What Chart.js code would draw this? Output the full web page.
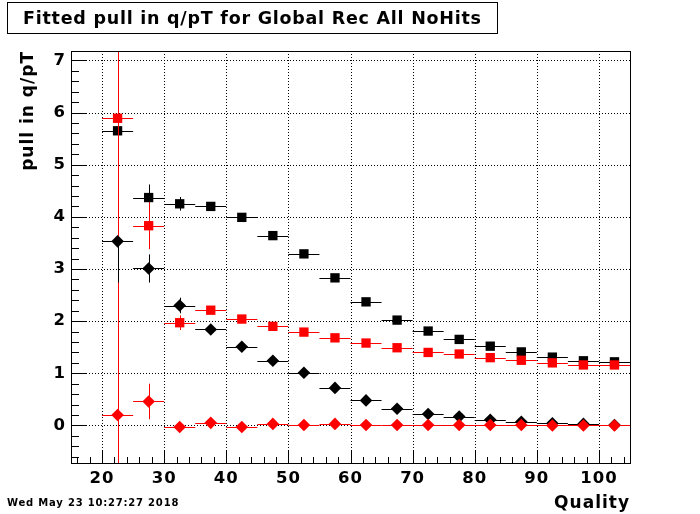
<!DOCTYPE html>
<html>
<head>
<meta charset="utf-8">
<script src="https://cdn.jsdelivr.net/npm/chart.js@4.4.1/dist/chart.umd.min.js"></script>
<style>
  body { margin: 0; background: #fff; }
  #wrap { position: relative; width: 700px; height: 514px; }
  #title {
    position: absolute; left: 7px; top: 2px; width: 489px; height: 30px;
    border: 1px solid #000;
    font: bold 17.5px "DejaVu Sans"; line-height: 30px; letter-spacing: 0.75px;
  }
  #title span { position: absolute; left: 15px; white-space: nowrap; }
  #stamp {
    position: absolute; left: 7px; top: 497px;
    font: bold 10px "DejaVu Sans"; letter-spacing: 0.8px;
  }
</style>
</head>
<body>
<div id="wrap">
  <canvas id="c" width="700" height="514"></canvas>
  <div id="title"><span>Fitted pull in q/pT for Global Rec All NoHits</span></div>
  <div id="stamp">Wed May 23 10:27:27 2018</div>
</div>
<script>
// Bin centres in Quality (bins are 5 wide)
const binCenters = [22.5, 27.5, 32.5, 37.5, 42.5, 47.5, 52.5, 57.5, 62.5, 67.5, 72.5, 77.5, 82.5, 87.5, 92.5, 97.5, 102.5];
const binHalfWidth = 2.5;

// black squares
const blackSquare    = [5.65, 4.37, 4.25, 4.20, 3.99, 3.64, 3.29, 2.83, 2.37, 2.02, 1.81, 1.65, 1.52, 1.41, 1.31, 1.24, 1.22];
const blackSquareErr = [0.10, 0.25, 0.13, 0.06, 0.03, 0.02, 0.02, 0.02, 0.02, 0.02, 0.02, 0.02, 0.02, 0.02, 0.02, 0.02, 0.02];
// red squares
const redSquare      = [5.89, 3.83, 1.97, 2.21, 2.04, 1.90, 1.79, 1.68, 1.58, 1.49, 1.40, 1.37, 1.30, 1.25, 1.20, 1.16, 1.16];
const redSquareErr   = [7.00, 0.45, 0.14, 0.05, 0.03, 0.02, 0.02, 0.02, 0.02, 0.02, 0.02, 0.02, 0.02, 0.02, 0.02, 0.02, 0.02];
// black diamonds (upper error of first bin is hidden)
const blackDiamond      = [3.53, 3.01, 2.30, 1.84, 1.51, 1.24, 1.01, 0.72, 0.48, 0.32, 0.22, 0.17, 0.11, 0.07, 0.04, 0.03, 0.01];
const blackDiamondErr   = [0.79, 0.27, 0.15, 0.05, 0.03, 0.02, 0.02, 0.02, 0.02, 0.02, 0.02, 0.02, 0.02, 0.02, 0.02, 0.02, 0.02];
const blackDiamondErrUp = [0.00, 0.27, 0.15, 0.05, 0.03, 0.02, 0.02, 0.02, 0.02, 0.02, 0.02, 0.02, 0.02, 0.02, 0.02, 0.02, 0.02];
// red diamonds
const redDiamond     = [0.20, 0.46, -0.03, 0.05, -0.03, 0.03, 0.01, 0.03, 0.01, 0.01, 0.01, 0.01, 0.01, 0.01, 0.00, 0.00, 0.00];
const redDiamondErr  = [1.55, 0.34, 0.03, 0.03, 0.03, 0.02, 0.02, 0.02, 0.02, 0.02, 0.02, 0.02, 0.02, 0.02, 0.02, 0.02, 0.02];

// tick labels
const xTickValues = [20, 30, 40, 50, 60, 70, 80, 90, 100];
const yTickValues = [0, 1, 2, 3, 4, 5, 6, 7];

// order: higher is drawn first, so the red diamonds end up on top
function makeSet(values, errLow, errHigh, color, style, radius, order) {
  return {
    data: binCenters.map((x, i) => ({ x: x, y: values[i] })),
    errLow: errLow,
    errHigh: errHigh,
    order: order,
    backgroundColor: color,
    borderColor: color,
    borderWidth: 0,
    pointStyle: style,
    pointRadius: radius,
    pointHoverRadius: radius,
    showLine: false
  };
}

// error bars drawn under each dataset's markers
const errorBars = {
  id: 'errorBars',
  beforeDatasetDraw(chart, args) {
    const ds = chart.data.datasets[args.index];
    const xs = chart.scales.x, ys = chart.scales.y;
    const area = chart.chartArea;
    const ctx = chart.ctx;
    ctx.save();
    ctx.beginPath();
    ctx.rect(area.left, area.top, area.right - area.left, area.bottom - area.top);
    ctx.clip();
    ctx.strokeStyle = ds.borderColor;
    ctx.lineWidth = 1;
    ds.data.forEach((p, i) => {
      const px = Math.round(xs.getPixelForValue(p.x)) + 0.5;
      const py = Math.round(ys.getPixelForValue(p.y)) + 0.5;
      ctx.beginPath();
      ctx.moveTo(xs.getPixelForValue(p.x - binHalfWidth), py);
      ctx.lineTo(xs.getPixelForValue(p.x + binHalfWidth), py);
      ctx.moveTo(px, ys.getPixelForValue(p.y + ds.errHigh[i]));
      ctx.lineTo(px, ys.getPixelForValue(p.y - ds.errLow[i]));
      ctx.stroke();
    });
    ctx.restore();
  }
};

// ROOT style frame, dotted grid and inside ticks
const frame = {
  id: 'frame',
  beforeDraw(chart) {
    chart.ctx.letterSpacing = '1px';
  },
  beforeDatasetsDraw(chart) {
    const xs = chart.scales.x, ys = chart.scales.y;
    const a = chart.chartArea;
    const ctx = chart.ctx;
    ctx.save();
    ctx.strokeStyle = '#000';
    ctx.lineWidth = 1;
    ctx.setLineDash([1, 2]);
    ctx.beginPath();
    xTickValues.forEach(v => {
      const px = Math.round(xs.getPixelForValue(v)) + 0.5;
      ctx.moveTo(px, a.top); ctx.lineTo(px, a.bottom);
    });
    yTickValues.forEach(v => {
      const py = Math.round(ys.getPixelForValue(v)) + 0.5;
      ctx.moveTo(a.left, py); ctx.lineTo(a.right, py);
    });
    ctx.stroke();
    ctx.setLineDash([]);
    ctx.beginPath();
    for (let v = 16; v <= 104; v += 2) {
      const px = Math.round(xs.getPixelForValue(v)) + 0.5;
      const len = v % 10 === 0 ? 12 : 6;
      ctx.moveTo(px, a.bottom); ctx.lineTo(px, a.bottom - len);
    }
    for (let k = -3; k <= 35; k++) {
      const v = k / 5;
      const py = Math.round(ys.getPixelForValue(v)) + 0.5;
      const len = k % 5 === 0 ? 16 : 8;
      ctx.moveTo(a.left, py); ctx.lineTo(a.left + len, py);
    }
    ctx.stroke();
    ctx.restore();
  },
  afterDraw(chart) {
    const a = chart.chartArea;
    const ctx = chart.ctx;
    ctx.save();
    ctx.strokeStyle = '#000';
    ctx.lineWidth = 1;
    ctx.strokeRect(Math.round(a.left) + 0.5, Math.round(a.top) + 0.5,
      Math.round(a.right - a.left), Math.round(a.bottom - a.top));
    ctx.restore();
  }
};

const tickFont = { family: 'DejaVu Sans', weight: 'bold', size: 16.5 };
const titleFont = { family: 'DejaVu Sans', weight: 'bold', size: 17 };

new Chart(document.getElementById('c'), {
  type: 'scatter',
  data: {
    datasets: [
      makeSet(blackSquare, blackSquareErr, blackSquareErr, '#000', 'rect', 6.6, 4),
      makeSet(redSquare, redSquareErr, redSquareErr, '#ff0000', 'rect', 6.6, 3),
      makeSet(blackDiamond, blackDiamondErr, blackDiamondErrUp, '#000', 'rectRot', 6.3, 2),
      makeSet(redDiamond, redDiamondErr, redDiamondErr, '#ff0000', 'rectRot', 6.3, 1)
    ]
  },
  options: {
    responsive: false,
    animation: false,
    events: [],
    layout: { padding: { left: 0, top: 51, right: 70, bottom: 0 } },
    plugins: {
      legend: { display: false },
      tooltip: { enabled: false }
    },
    scales: {
      x: {
        type: 'linear',
        min: 15,
        max: 105,
        afterFit: s => { s.height = 51; },
        afterBuildTicks: s => { s.ticks = xTickValues.map(v => ({ value: v })); },
        grid: { display: false, drawTicks: false },
        border: { display: false },
        ticks: { color: '#000', padding: 6, font: tickFont },
        title: {
          display: true, text: 'Quality', align: 'end', color: '#000',
          padding: { top: 0, bottom: 0 },
          font: titleFont
        }
      },
      y: {
        type: 'linear',
        min: -0.72,
        max: 7.18,
        afterFit: s => { s.width = 71; },
        afterBuildTicks: s => { s.ticks = yTickValues.map(v => ({ value: v })); },
        grid: { display: false, drawTicks: false },
        border: { display: false },
        ticks: { color: '#000', padding: 5, font: tickFont },
        title: {
          display: true, text: 'pull in q/pT', align: 'end', color: '#000',
          padding: { top: 18, bottom: 0 },
          font: titleFont
        }
      }
    }
  },
  plugins: [errorBars, frame]
});
</script>
</body>
</html>
